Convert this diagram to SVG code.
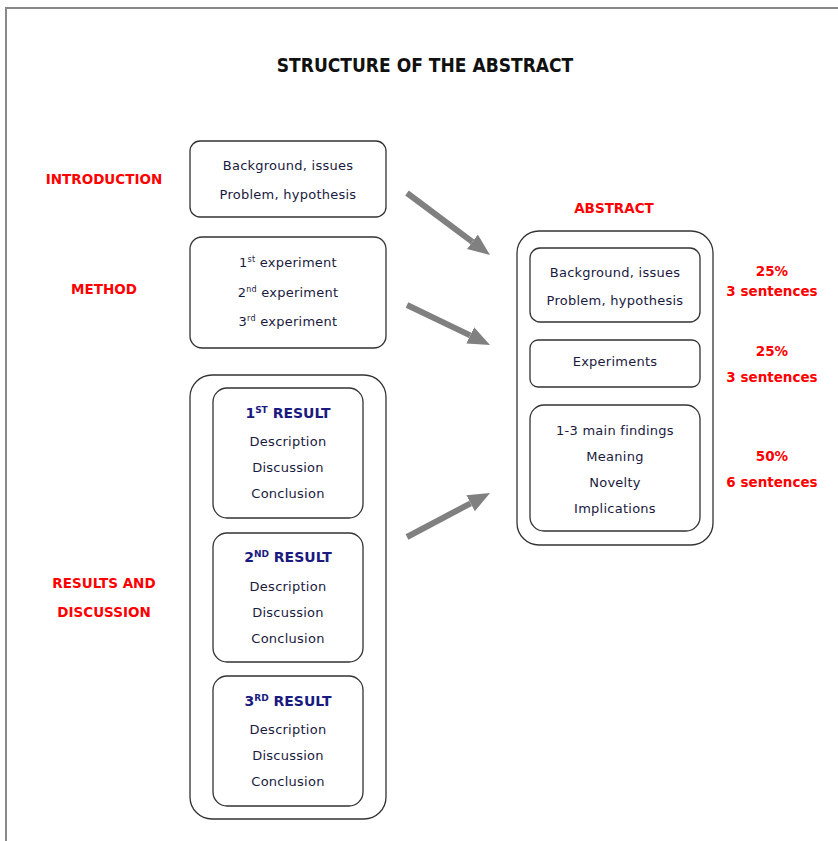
<svg xmlns="http://www.w3.org/2000/svg" width="838" height="841" viewBox="0 0 838 841">
<style>
.box{fill:#fff;stroke:#333;stroke-width:1.3}
.t{font-family:"DejaVu Sans",Verdana,sans-serif;font-size:13px;letter-spacing:0.25px;fill:#1a1a40;text-anchor:middle}
.red{font-family:"DejaVu Sans",Verdana,sans-serif;font-weight:bold;font-size:13.5px;fill:#ff0000;text-anchor:middle}
.nav{font-family:"DejaVu Sans",Verdana,sans-serif;font-weight:bold;font-size:14px;fill:#1a1a80;text-anchor:middle}
.title{font-family:"DejaVu Sans Condensed","DejaVu Sans",sans-serif;font-weight:bold;font-size:19px;fill:#111;text-anchor:middle}
.arr{stroke:#808080;stroke-width:6;fill:none}
</style>
<defs>
<marker id="ah" markerUnits="userSpaceOnUse" markerWidth="24" markerHeight="20" refX="0" refY="10" orient="auto">
<path d="M0,1 L22,10 L0,19 Z" fill="#808080"/>
</marker>
</defs>
<rect width="838" height="841" fill="#fff"/>
<path d="M6,841 V8 H838" fill="none" stroke="#888" stroke-width="2"/>
<text class="title" x="425" y="72">STRUCTURE OF THE ABSTRACT</text>

<g id="labels">
<text class="red" x="104" y="184">INTRODUCTION</text>
<text class="red" x="104" y="294">METHOD</text>
<text class="red" x="104" y="588">RESULTS AND</text>
<text class="red" x="104" y="617">DISCUSSION</text>
<text class="red" x="614" y="213">ABSTRACT</text>
</g>

<g id="introduction">
<rect class="box" x="190" y="141" width="196" height="76" rx="10"/>
<text class="t" x="288" y="170">Background, issues</text>
<text class="t" x="288" y="199">Problem, hypothesis</text>
</g>

<g id="method">
<rect class="box" x="190" y="237" width="196" height="111" rx="12"/>
<text class="t" x="288" y="267">1<tspan font-size="8" dy="-5">st</tspan><tspan dy="5"> experiment</tspan></text>
<text class="t" x="288" y="297">2<tspan font-size="8" dy="-5">nd</tspan><tspan dy="5"> experiment</tspan></text>
<text class="t" x="288" y="326">3<tspan font-size="8" dy="-5">rd</tspan><tspan dy="5"> experiment</tspan></text>
</g>

<g id="results">
<rect class="box" x="190" y="375" width="196" height="444" rx="22"/>
<g id="result1">
<rect class="box" x="213" y="388" width="150" height="130" rx="14"/>
<text class="nav" x="288" y="418">1<tspan font-size="9" dy="-5">ST</tspan><tspan dy="5"> RESULT</tspan></text>
<text class="t" x="288" y="446">Description</text>
<text class="t" x="288" y="472">Discussion</text>
<text class="t" x="288" y="498">Conclusion</text>
</g>
<g id="result2">
<rect class="box" x="213" y="533" width="150" height="129" rx="14"/>
<text class="nav" x="288" y="562">2<tspan font-size="9" dy="-5">ND</tspan><tspan dy="5"> RESULT</tspan></text>
<text class="t" x="288" y="591">Description</text>
<text class="t" x="288" y="617">Discussion</text>
<text class="t" x="288" y="643">Conclusion</text>
</g>
<g id="result3">
<rect class="box" x="213" y="676" width="150" height="130" rx="14"/>
<text class="nav" x="288" y="706">3<tspan font-size="9" dy="-5">RD</tspan><tspan dy="5"> RESULT</tspan></text>
<text class="t" x="288" y="734">Description</text>
<text class="t" x="288" y="760">Discussion</text>
<text class="t" x="288" y="786">Conclusion</text>
</g>
</g>

<g id="abstract">
<rect class="box" x="517" y="231" width="196" height="314" rx="22"/>
<g id="abs-intro">
<rect class="box" x="530" y="248" width="170" height="74" rx="10"/>
<text class="t" x="615" y="277">Background, issues</text>
<text class="t" x="615" y="305">Problem, hypothesis</text>
</g>
<g id="abs-method">
<rect class="box" x="530" y="340" width="170" height="47" rx="8"/>
<text class="t" x="615" y="366">Experiments</text>
</g>
<g id="abs-results">
<rect class="box" x="530" y="405" width="170" height="126" rx="14"/>
<text class="t" x="615" y="435">1-3 main findings</text>
<text class="t" x="615" y="461">Meaning</text>
<text class="t" x="615" y="487">Novelty</text>
<text class="t" x="615" y="513">Implications</text>
</g>
</g>

<g id="proportions">
<text class="red" x="772" y="276">25%</text>
<text class="red" x="772" y="296">3 sentences</text>
<text class="red" x="772" y="356">25%</text>
<text class="red" x="772" y="382">3 sentences</text>
<text class="red" x="772" y="461">50%</text>
<text class="red" x="772" y="487">6 sentences</text>
</g>

<g id="connectors">
<line class="arr" x1="407" y1="193" x2="472.4" y2="241.8" marker-end="url(#ah)"/>
<line class="arr" x1="407" y1="305" x2="470.2" y2="335.4" marker-end="url(#ah)"/>
<line class="arr" x1="407" y1="537" x2="470.6" y2="503.3" marker-end="url(#ah)"/>
</g>
</svg>
